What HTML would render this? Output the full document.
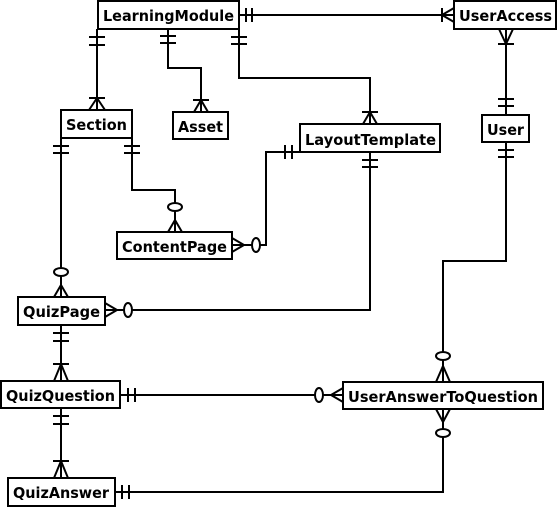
<!DOCTYPE html>
<html><head><meta charset="utf-8"><style>
html,body{margin:0;padding:0;background:#fff;width:559px;height:509px;overflow:hidden}
svg{display:block}
text{font-family:"DejaVu Sans","Liberation Sans",sans-serif;font-weight:bold;font-size:15px;fill:#000}
</style></head><body>
<svg width="559" height="509" viewBox="0 0 559 509" xmlns="http://www.w3.org/2000/svg">
<g fill="none" stroke="#000" stroke-width="2">
<path d="M239 15H454"/><path d="M246 8v14M252 8v14"/>
<path d="M442 8v14M442 15L454 8M442 15L454 22"/>
<path d="M97 29V110"/><path d="M89 37h16M89 45h16"/>
<path d="M89 98h16M97 98L89 110M97 98L105 110"/>
<path d="M168 29V68H201V112"/><path d="M160 36h16M160 43h16"/>
<path d="M193 100h16M201 100L194 112M201 100L208 112"/>
<path d="M239 29V78H370V124"/><path d="M231 37h16M231 44h16"/>
<path d="M362 112h16M370 112L363 124M370 112L377 124"/>
<path d="M506 29V115"/><path d="M498 44h16M506 44L499 29M506 44L513 29"/>
<path d="M498 99h16M498 106h16"/>
<path d="M61 138V297"/><path d="M53 146h16M53 153h16"/>
<path d="M61 285L54 297M61 285L68 297"/><ellipse cx="61" cy="272" rx="7" ry="4" fill="#fff"/>
<path d="M132 138V190H175V232"/><path d="M124 146h16M124 153h16"/>
<path d="M175 220L168 232M175 220L182 232"/><ellipse cx="175" cy="207" rx="7" ry="4" fill="#fff"/>
<path d="M300 152H266V245H232"/><path d="M285 145v14M292 145v14"/>
<path d="M244 245L232 238M244 245L232 252"/><ellipse cx="256" cy="245" rx="4" ry="7" fill="#fff"/>
<path d="M370 152V310H105"/><path d="M362 160h16M362 167h16"/>
<path d="M117 310L105 303M117 310L105 317"/><ellipse cx="128" cy="310" rx="4" ry="7" fill="#fff"/>
<path d="M61 325V381"/><path d="M53 333h16M53 341h16"/>
<path d="M53 364h16M61 364L54 381M61 364L68 381"/>
<path d="M120 395H343"/><path d="M128 388v14M135 388v14"/>
<path d="M331 395L343 388M331 395L343 402"/><ellipse cx="319" cy="395" rx="4" ry="7" fill="#fff"/>
<path d="M506 142V261H443V382"/><path d="M498 150h16M498 157h16"/>
<path d="M443 366L436 382M443 366L450 382"/><ellipse cx="443" cy="356" rx="7" ry="4" fill="#fff"/>
<path d="M61 408V478"/><path d="M53 416h16M53 424h16"/>
<path d="M53 461h16M61 461L54 478M61 461L68 478"/>
<path d="M115 492H443V409"/><path d="M122 485v14M129 485v14"/>
<path d="M443 422L436 409M443 422L450 409"/><ellipse cx="443" cy="433" rx="7" ry="4" fill="#fff"/>
<rect x="98" y="1" width="141" height="28" fill="#fff"/>
<rect x="454" y="1" width="102" height="28" fill="#fff"/>
<rect x="61" y="110" width="71" height="28" fill="#fff"/>
<rect x="173" y="112" width="55" height="27" fill="#fff"/>
<rect x="300" y="124" width="140" height="28" fill="#fff"/>
<rect x="482" y="115" width="47" height="27" fill="#fff"/>
<rect x="117" y="232" width="115" height="27" fill="#fff"/>
<rect x="18" y="297" width="87" height="28" fill="#fff"/>
<rect x="1" y="381" width="119" height="27" fill="#fff"/>
<rect x="343" y="382" width="200" height="27" fill="#fff"/>
<rect x="8" y="478" width="107" height="28" fill="#fff"/>
</g>
<g>
<text x="103" y="21" textLength="131" lengthAdjust="spacingAndGlyphs">LearningModule</text>
<text x="459" y="21" textLength="93" lengthAdjust="spacingAndGlyphs">UserAccess</text>
<text x="66" y="130" textLength="61" lengthAdjust="spacingAndGlyphs">Section</text>
<text x="178" y="132" textLength="45" lengthAdjust="spacingAndGlyphs">Asset</text>
<text x="305" y="145" textLength="131" lengthAdjust="spacingAndGlyphs">LayoutTemplate</text>
<text x="487" y="135" textLength="37" lengthAdjust="spacingAndGlyphs">User</text>
<text x="122" y="252" textLength="105" lengthAdjust="spacingAndGlyphs">ContentPage</text>
<text x="23" y="317" textLength="77" lengthAdjust="spacingAndGlyphs">QuizPage</text>
<text x="6" y="401" textLength="109" lengthAdjust="spacingAndGlyphs">QuizQuestion</text>
<text x="348" y="402" textLength="190" lengthAdjust="spacingAndGlyphs">UserAnswerToQuestion</text>
<text x="13" y="498" textLength="96" lengthAdjust="spacingAndGlyphs">QuizAnswer</text>
</g>
</svg>
</body></html>
